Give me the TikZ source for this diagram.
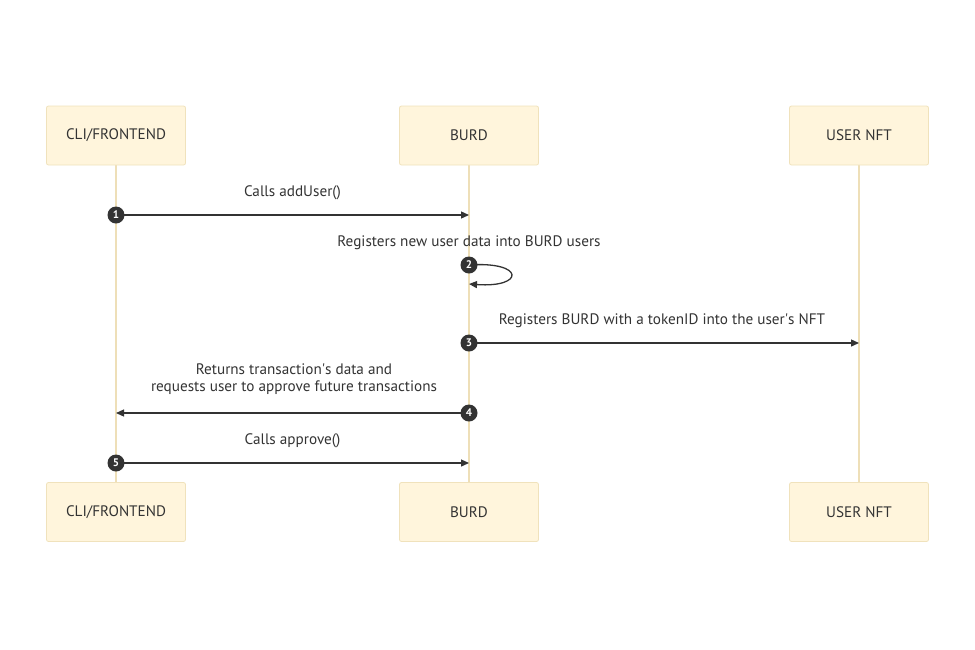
\documentclass[tikz,border=0pt]{standalone}
\usepackage{fontspec}
\setmainfont{PT Sans}
\usetikzlibrary{arrows.meta}
\definecolor{actfill}{HTML}{FFF5DC}
\definecolor{actdraw}{HTML}{F0E2BC}
\definecolor{lifec}{HTML}{EEDFB8}
\definecolor{msgc}{HTML}{333333}
\tikzset{
  actor/.style={draw=actdraw, fill=actfill, rounded corners=2pt, minimum width=139pt, minimum height=59pt, font=\fontsize{15.2}{17}\selectfont, text=msgc, line width=0.8pt},
  lifeline/.style={draw=lifec, line width=2pt},
  msg/.style={draw=msgc, line width=1.3pt, -{Triangle[length=8pt,width=7pt]}},
  lbl/.style={font=\fontsize{15.2}{17.5}\selectfont, text=msgc, align=center},
  seq/.style={circle, fill=msgc, text=white, inner sep=0pt, minimum size=17pt, font=\fontsize{11}{11}\selectfont\bfseries},
}
\begin{document}
\begin{tikzpicture}[x=1pt,y=-1pt]
\useasboundingbox (0,0) rectangle (975,649);
% lifelines
\coordinate (la1) at (116,165); \coordinate (lb1) at (116,482);
\coordinate (la2) at (469,165); \coordinate (lb2) at (469,482);
\coordinate (la3) at (859,165); \coordinate (lb3) at (859,482);
\draw[lifeline] (la1) -- (lb1);
\draw[lifeline] (la2) -- (lb2);
\draw[lifeline] (la3) -- (lb3);
% actors
\node[actor] (cliT) at (116,135.5) {CLI/FRONTEND};
\node[actor] (burdT) at (469,135.5) {BURD};
\node[actor] (nftT) at (859,135.5) {USER NFT};
\node[actor] (cliB) at (116,512) {CLI/FRONTEND};
\node[actor] (burdB) at (469,512) {BURD};
\node[actor] (nftB) at (859,512) {USER NFT};
% message 1
\coordinate (m1a) at (116,215); \coordinate (m1b) at (469,215);
\draw[msg] (m1a) -- (m1b);
\node[lbl] (l1) at (292.5,193) {Calls addUser()};
\node[seq] (s1) at (m1a) {1};
% message 2
\coordinate (m2a) at (469,265); \coordinate (m2b) at (469,284);
\draw[msg] (m2a) .. controls (525,261) and (525,288) .. (m2b);
\node[lbl] (l2) at (469,243) {Registers new user data into BURD users};
\node[seq] (s2) at (m2a) {2};
% message 3
\coordinate (m3a) at (469,343); \coordinate (m3b) at (859,343);
\draw[msg] (m3a) -- (m3b);
\node[lbl] (l3) at (662,321) {Registers BURD with a tokenID into the user\textquotesingle s NFT};
\node[seq] (s3) at (m3a) {3};
% message 4
\coordinate (m4a) at (469,413); \coordinate (m4b) at (116,413);
\draw[msg] (m4a) -- (m4b);
\node[lbl] (l4) at (294,379) {Returns transaction\textquotesingle s data and\\requests user to approve future transactions};
\node[seq] (s4) at (m4a) {4};
% message 5
\coordinate (m5a) at (116,463); \coordinate (m5b) at (469,463);
\draw[msg] (m5a) -- (m5b);
\node[lbl] (l5) at (292.5,441) {Calls approve()};
\node[seq] (s5) at (m5a) {5};
\end{tikzpicture}
\end{document}
